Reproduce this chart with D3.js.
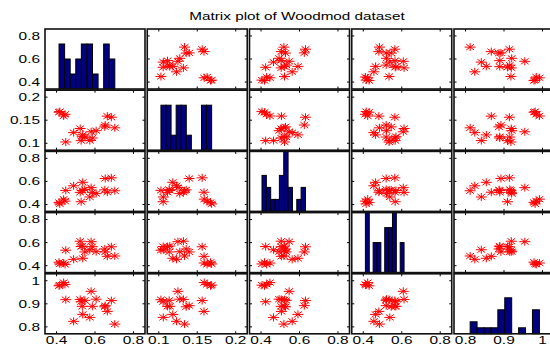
<!DOCTYPE html>
<html><head><meta charset="utf-8">
<script src="https://cdn.jsdelivr.net/npm/d3@7"></script>
<style>body{margin:0;background:#fff;overflow:hidden}</style>
</head><body>
<svg id="chart" width="550" height="350"></svg>
<script>
// ---- data (Woodmod dataset, 20 observations) ----
const varNames = ["x1", "x2", "x3", "x4", "x5"];
const x1 = [0.573,0.651,0.606,0.437,0.547,0.444,0.489,0.413,0.536,0.685,0.664,0.703,0.653,0.586,0.534,0.523,0.580,0.448,0.417,0.528];
const x2 = [0.1059,0.1356,0.1273,0.1591,0.1135,0.1628,0.1231,0.1673,0.1182,0.1564,0.1588,0.1335,0.1395,0.1114,0.1143,0.1320,0.1249,0.1028,0.1687,0.1057];
const x3 = [0.465,0.527,0.494,0.446,0.531,0.429,0.562,0.418,0.592,0.631,0.506,0.519,0.625,0.505,0.521,0.505,0.546,0.522,0.405,0.424];
const x4 = [0.538,0.545,0.521,0.423,0.519,0.411,0.455,0.430,0.464,0.564,0.481,0.484,0.519,0.565,0.570,0.612,0.608,0.534,0.415,0.566];
const x5 = [0.841,0.887,0.920,0.992,0.915,0.984,0.824,0.978,0.854,0.914,0.867,0.812,0.892,0.889,0.889,0.919,0.954,0.918,0.981,0.909];
const columns = [x1, x2, x3, x4, x5];

const axisLimits = [[0.34,0.86],[0.085,0.215],[0.34,0.86],[0.34,0.86],[0.77,1.03]];
const tickValues = [[0.4,0.6,0.8],[0.1,0.15,0.2],[0.4,0.6,0.8],[0.4,0.6,0.8],[0.8,0.9,1]];
const tickLabels = [["0.4","0.6","0.8"],["0.1","0.15","0.2"],["0.4","0.6","0.8"],["0.4","0.6","0.8"],["0.8","0.9","1"]];

// histogram counts (10 equal bins between min and max of each variable)
const hist1 = [3,2,1,2,3,3,1,0,3,2];
const hist2 = [3,3,1,3,3,1,0,0,3,3];
const hist3 = [3,2,1,1,3,5,2,0,1,2];
const hist4 = [4,0,2,2,0,3,3,4,0,2];
const hist5 = [2,1,1,1,4,6,0,1,0,4];
const histCounts = [hist1, hist2, hist3, hist4, hist5];
const histMax = [4,4,5,4,10];

const title = "Matrix plot of Woodmod dataset";

// ---- layout ----
const left0 = 45, top0 = 29, pitchX = 102.25, pitchY = 61.2, W = 100, H = 60;
const n = varNames.length;
const svg = d3.select("#chart");
svg.append("rect").attr("width",550).attr("height",350).attr("fill","#fff");

const xScales = d3.range(n).map(j => d3.scaleLinear().domain(axisLimits[j]).range([left0 + j*pitchX, left0 + j*pitchX + W]));
const yScales = d3.range(n).map(i => d3.scaleLinear().domain(axisLimits[i]).range([top0 + i*pitchY + H, top0 + i*pitchY]));

const starPath = "M-5.5,0H5.5M0,-4V4M-3.9,-2.9L3.9,2.9M-3.9,2.9L3.9,-2.9";
const fontFam = "'Liberation Sans', Arial, Helvetica, sans-serif";

for (let i = 0; i < n; i++) {
  for (let j = 0; j < n; j++) {
    const xs = xScales[j], ys = yScales[i];
    const [xa, xb] = xs.range(), [yb, ya] = ys.range();
    const g = svg.append("g");
    g.append("rect").attr("x",xa).attr("y",ya).attr("width",xb-xa).attr("height",yb-ya).attr("fill","#fff");
    if (i === j) {
      const data = columns[i];
      const [mn, mx] = d3.extent(data);
      const bw = (mx - mn) / histCounts[i].length;
      const hy = d3.scaleLinear().domain([0, histMax[i]]).range([yb, ya]);
      g.selectAll("rect.bar").data(histCounts[i]).join("rect")
        .attr("class","bar")
        .attr("x", (d,k) => xs(mn + k*bw))
        .attr("width", (d,k) => xs(mn + (k+1)*bw) - xs(mn + k*bw))
        .attr("y", d => hy(d))
        .attr("height", d => yb - hy(d))
        .attr("fill", "#000080")
        .attr("stroke", d => d > 0 ? "#000" : "none")
        .attr("stroke-width", 1);
    } else {
      const pts = d3.range(columns[j].length).map(k => [columns[j][k], columns[i][k]]);
      g.selectAll("path.star").data(pts).join("path")
        .attr("class","star")
        .attr("d", starPath)
        .attr("transform", d => `translate(${xs(d[0])},${ys(d[1])})`)
        .attr("fill","none")
        .attr("stroke","#ff0000")
        .attr("stroke-width",1);
      // inward ticks on all four sides
      const tl = 2.5;
      tickValues[j].forEach(t => {
        const x = xs(t);
        g.append("line").attr("x1",x).attr("x2",x).attr("y1",yb).attr("y2",yb-tl).attr("stroke","#000");
        g.append("line").attr("x1",x).attr("x2",x).attr("y1",ya).attr("y2",ya+tl).attr("stroke","#000");
      });
      tickValues[i].forEach(t => {
        const y = ys(t);
        g.append("line").attr("x1",xa).attr("x2",xa+tl).attr("y1",y).attr("y2",y).attr("stroke","#000");
        g.append("line").attr("x1",xb).attr("x2",xb-tl).attr("y1",y).attr("y2",y).attr("stroke","#000");
      });
    }
    g.append("rect").attr("x",xa).attr("y",ya).attr("width",xb-xa).attr("height",yb-ya)
      .attr("fill","none").attr("stroke","#111").attr("stroke-width",1.6);
  }
}

// y tick labels (left column)
for (let i = 0; i < n; i++) {
  tickValues[i].forEach((t, k) => {
    svg.append("text")
      .attr("transform", `translate(40,${yScales[i](t)}) scale(1.4,1)`)
      .attr("dy","0.36em")
      .attr("text-anchor","end")
      .attr("font-family", fontFam).attr("font-size", 11).attr("fill","#000")
      .text(tickLabels[i][k]);
  });
}
// x tick labels (bottom row)
for (let j = 0; j < n; j++) {
  tickValues[j].forEach((t, k) => {
    svg.append("text")
      .attr("transform", `translate(${xScales[j](t)},343.5) scale(1.4,1)`)
      .attr("text-anchor","middle")
      .attr("font-family", fontFam).attr("font-size", 11).attr("fill","#000")
      .text(tickLabels[j][k]);
  });
}
// title
svg.append("text")
  .attr("transform","translate(297,20) scale(1.33,1)")
  .attr("text-anchor","middle")
  .attr("font-family", fontFam).attr("font-size", 11.5).attr("fill","#000")
  .text(title);
</script>
</body></html>
